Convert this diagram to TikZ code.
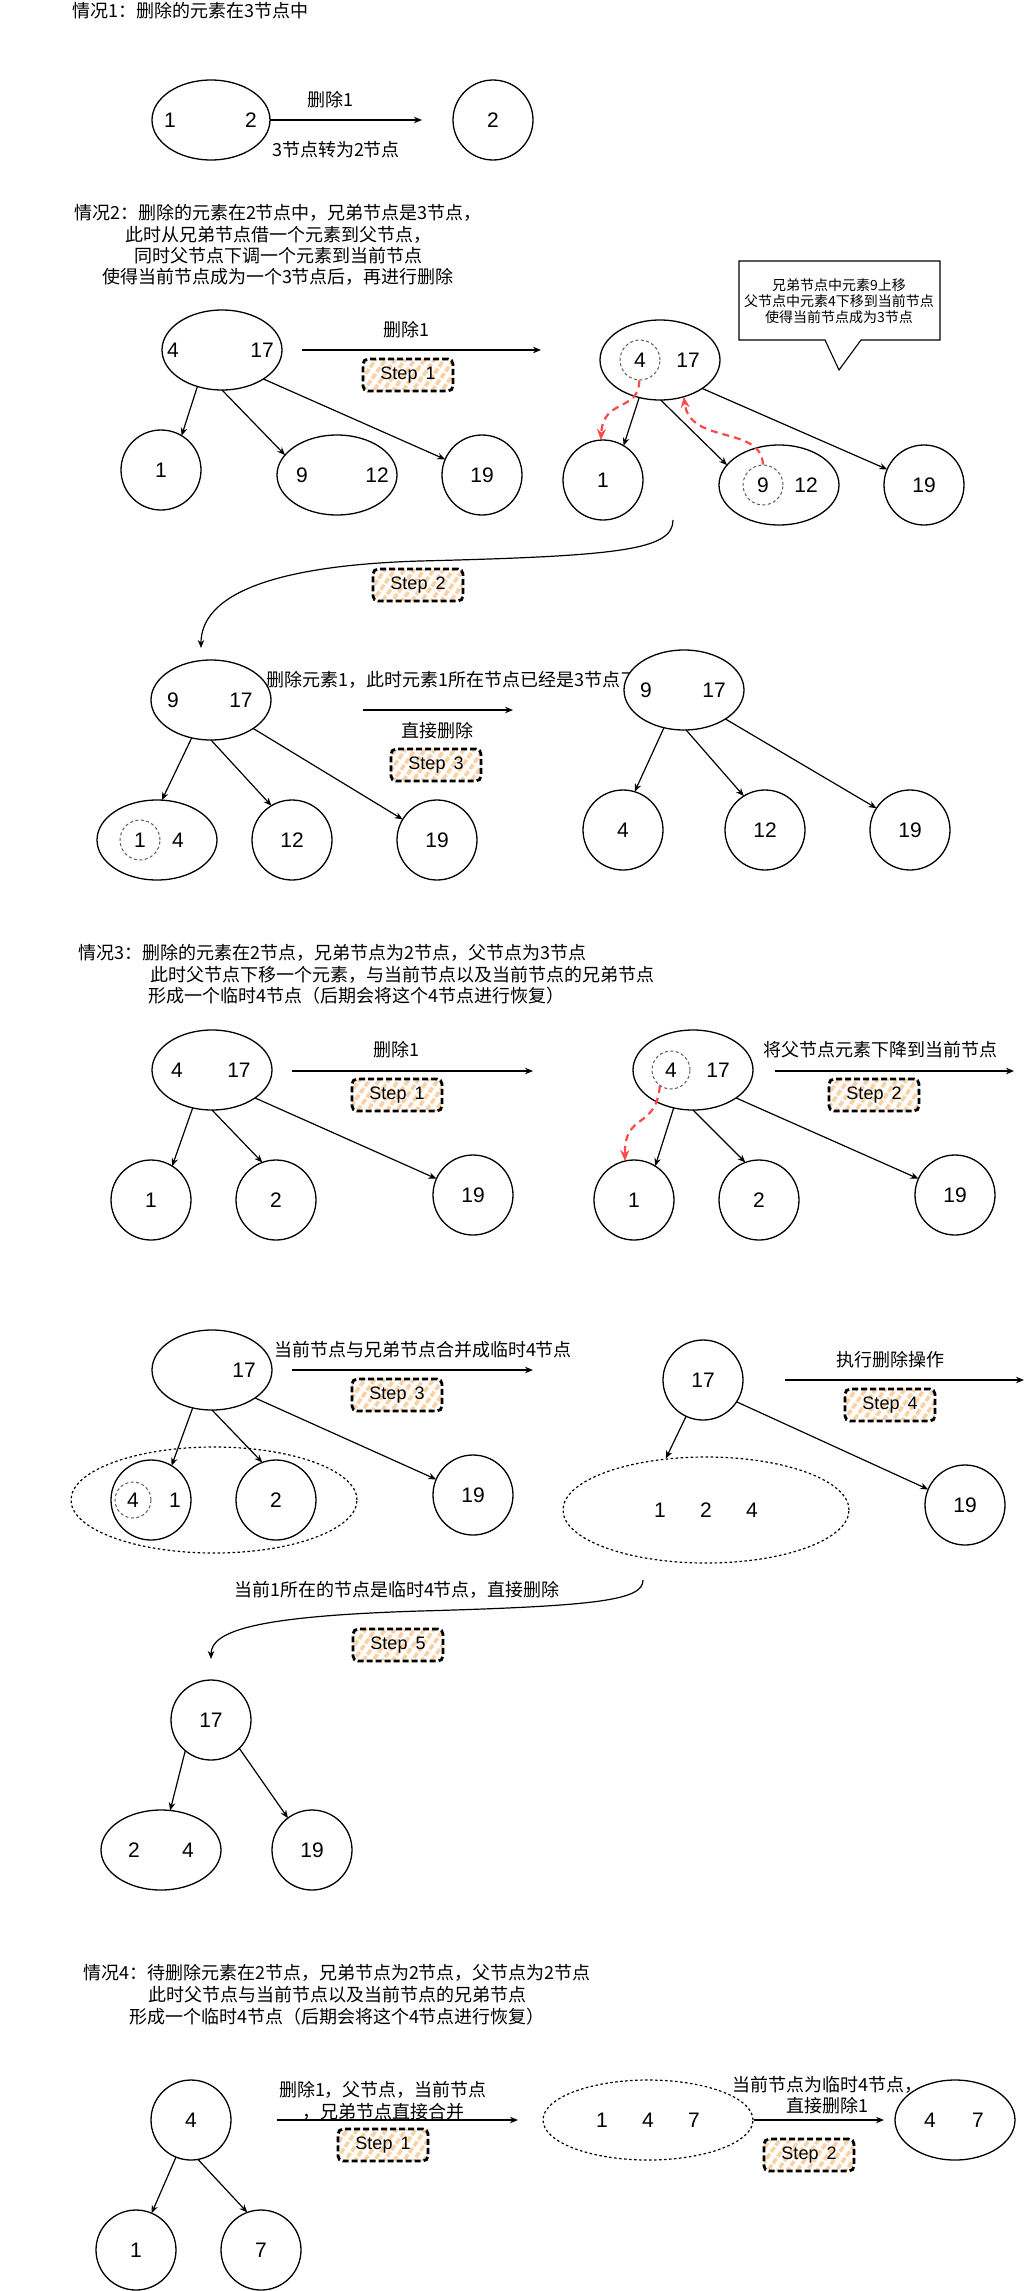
\documentclass[tikz,border=0pt]{standalone}
\usepackage{fontspec}
\setmainfont{Liberation Sans}
\newfontfamily\cjk{Noto Sans CJK SC}
\usetikzlibrary{shapes.geometric,arrows.meta,patterns.meta}
\definecolor{redarr}{RGB}{255,72,72}
\definecolor{hatchc}{RGB}{250,210,165}
\definecolor{dgray}{RGB}{90,90,90}
\tikzset{
  nd/.style={draw, ellipse, line width=1.3pt, inner sep=0pt, outer sep=0pt, fill=white,
    minimum width=#1, minimum height=80pt, font=\fontsize{21}{25}\selectfont},
  nd/.default=80pt,
  dc/.style={draw=dgray, circle, line width=1pt, dash pattern=on 3pt off 2.5pt, inner sep=0pt,
    minimum size=#1, font=\fontsize{21}{25}\selectfont},
  dc/.default=40pt,
  bigdash/.style={draw, ellipse, line width=1.2pt, dash pattern=on 2.5pt off 2.5pt, inner sep=0pt,
    fill=white, minimum width=#1, minimum height=106pt},
  num/.style={inner sep=0pt, font=\fontsize{21}{25}\selectfont},
  cn/.style={inner sep=0pt, font=\cjk\fontsize{18}{21.5}\selectfont},
  cnsm/.style={inner sep=0pt, font=\cjk\fontsize{14}{16}\selectfont},
  tedge/.style={-{Stealth[length=8pt,width=6.5pt]}, line width=1.2pt},
  redarrow/.style={-{Stealth[length=11pt,width=9pt]}, draw=redarr, line width=2.2pt,
    dash pattern=on 7pt off 5pt},
  stepbox/.style={draw, line width=2.8pt, dash pattern=on 6pt off 3pt, rounded corners=5pt,
    minimum width=90pt, minimum height=32pt, inner sep=0pt,
    pattern={Lines[angle=55,distance=8pt,line width=3.6pt]}, pattern color=hatchc,
    font=\fontsize{18}{21}\selectfont},
}
\newcommand{\stp}[1]{Step\hspace{8pt}#1}
\begin{document}
\begin{tikzpicture}[x=1pt,y=-1pt]
\fill[white] (0,0) rectangle (1029,2291);
\useasboundingbox (0,0) rectangle (1029,2291);

%% ---------------- Case 1
\node[cn, anchor=west] (t1) at (72,11) {情况1：删除的元素在3节点中};
\node[nd=118pt] (A) at (211,120) {};
\node[num] (A1) at (170,120) {1};
\node[num] (A2) at (251,120) {2};
\coordinate (a1e) at (422,120);
\draw[tedge] (A.east) -- (a1e);
\node[cn] (a1l) at (330,100) {删除1};
\node[cn] (a1m) at (336,150) {3节点转为2节点};
\node[nd] (B) at (493,120) {2};

%% ---------------- Case 2
\node[cn, align=center, font=\cjk\fontsize{18}{21.3}\selectfont] (t2) at (278,245)
  {情况2：删除的元素在2节点中，兄弟节点是3节点，\\此时从兄弟节点借一个元素到父节点，\\同时父节点下调一个元素到当前节点\\使得当前节点成为一个3节点后，再进行删除};

\node[nd=120pt] (C) at (222,350) {};
\node[num] (C1) at (173,350) {4};
\node[num] (C2) at (262,350) {17};
\coordinate (c0s) at (302,350);
\coordinate (c0e) at (541,350);
\draw[tedge] (c0s) -- (c0e);
\node[cn] (c0l) at (406,330) {删除1};
\node[stepbox] (st21) at (408,375) {\stp{1}};
\node[nd] (c1) at (161,470) {1};
\node[nd=120pt] (c2) at (337,475) {};
\node[num] (c21) at (302,475) {9};
\node[num] (c22) at (377,475) {12};
\node[nd] (c3) at (482,475) {19};
\draw[tedge] (C.236) -- (c1.59);
\draw[tedge] (C.270) -- (c2.159);
\draw[tedge] (C.325) -- (c3.157);

\node[nd=120pt] (D) at (660,360) {};
\node[dc] (Dd) at (640,360) {4};
\node[num] (D2) at (688,360) {17};
\node[nd] (d1) at (603,480) {1};
\node[nd=120pt] (d2) at (779,485) {};
\node[dc] (d2d) at (763,485) {9};
\node[num] (d22) at (806,485) {12};
\node[nd] (d3) at (924,485) {19};
\draw[tedge] (D.241) -- (d1.59);
\draw[tedge] (D.271) -- (d2.159);
\draw[tedge] (D.326) -- (d3.157);
\draw[redarrow] (Dd.268) .. controls (639,412) and (603,398) .. (d1.93);
\draw[redarrow] (d2d.90) .. controls (761,425) and (690,445) .. (D.303);

\draw[fill=white, line width=1.1pt] (739,261) -- (940,261) -- (940,340) -- (861,340)
  -- (839,370) -- (825,340) -- (739,340) -- cycle;
\node[cnsm, align=center] (callout) at (839,301)
  {兄弟节点中元素9上移\\父节点中元素4下移到当前节点\\使得当前节点成为3节点};

\coordinate (s2a) at (673,520);
\coordinate (s2b) at (201,648);
\draw[tedge] (s2a) .. controls (673,550) and (620,556) .. (420,561)
  .. controls (258,566) and (201,600) .. (s2b);
\node[stepbox] (st22) at (418,585) {\stp{2}};

\node[nd=120pt] (E) at (211,700) {};
\node[num] (E1) at (173,700) {9};
\node[num] (E2) at (241,700) {17};
\node[cn, anchor=west] (e0l) at (266,680) {删除元素1，此时元素1所在节点已经是3节点了};
\coordinate (e0s) at (363,710);
\coordinate (e0e) at (513,710);
\draw[tedge] (e0s) -- (e0e);
\node[cn] (e0m) at (437,731) {直接删除};
\node[stepbox] (st23) at (436,765) {\stp{3}};
\node[nd=120pt] (F) at (684,690) {};
\node[num] (F1) at (646,690) {9};
\node[num] (F2) at (714,690) {17};

\node[nd=120pt] (e1) at (157,840) {};
\node[dc] (e1d) at (140,840) {1};
\node[num] (e12) at (178,840) {4};
\node[nd] (e2) at (292,840) {12};
\node[nd] (e3) at (437,840) {19};
\draw[tedge] (E.243) -- (e1.83);
\draw[tedge] (E.270) -- (e2.121);
\draw[tedge] (E.326) -- (e3.149);

\node[nd] (f1) at (623,830) {4};
\node[nd] (f2) at (765,830) {12};
\node[nd] (f3) at (910,830) {19};
\draw[tedge] (F.242) -- (f1.73);
\draw[tedge] (F.273) -- (f2.122);
\draw[tedge] (F.325) -- (f3.147);

%% ---------------- Case 3
\node[cn, anchor=west] (t3a) at (78,953) {情况3：删除的元素在2节点，兄弟节点为2节点，父节点为3节点};
\node[cn, anchor=west] (t3b) at (150,975) {此时父节点下移一个元素，与当前节点以及当前节点的兄弟节点};
\node[cn, anchor=west] (t3c) at (148,996) {形成一个临时4节点（后期会将这个4节点进行恢复）};

\node[nd=120pt] (G) at (212,1070) {};
\node[num] (G1) at (177,1070) {4};
\node[num] (G2) at (239,1070) {17};
\coordinate (g0s) at (292,1071);
\coordinate (g0e) at (533,1071);
\draw[tedge] (g0s) -- (g0e);
\node[cn] (g0l) at (396,1050) {删除1};
\node[stepbox] (st31) at (397,1095) {\stp{1}};
\node[nd] (g1) at (151,1200) {1};
\node[nd] (g2) at (276,1200) {2};
\node[nd] (g3) at (473,1195) {19};
\draw[tedge] (G.243) -- (g1.58);
\draw[tedge] (G.270) -- (g2.110);
\draw[tedge] (G.327) -- (g3.156);

\node[nd=120pt] (H) at (693,1070) {};
\node[dc=38pt] (Hd) at (671,1070) {4};
\node[num] (H2) at (718,1070) {17};
\coordinate (h0s) at (775,1071);
\coordinate (h0e) at (1014,1071);
\draw[tedge] (h0s) -- (h0e);
\node[cn] (h0l) at (880,1050) {将父节点元素下降到当前节点};
\node[stepbox] (st32) at (874,1095) {\stp{2}};
\node[nd] (h1) at (634,1200) {1};
\node[nd] (h2) at (759,1200) {2};
\node[nd] (h3) at (955,1195) {19};
\draw[tedge] (H.243) -- (h1.58);
\draw[tedge] (H.270) -- (h2.110);
\draw[tedge] (H.327) -- (h3.156);
\draw[redarrow] (Hd.235) .. controls (656,1130) and (624,1112) .. (h1.103);

\node[nd=120pt] (I) at (212,1370) {};
\node[num] (I2) at (244,1370) {17};
\coordinate (i0s) at (292,1370);
\coordinate (i0e) at (533,1370);
\draw[tedge] (i0s) -- (i0e);
\node[cn] (i0l) at (423,1350) {当前节点与兄弟节点合并成临时4节点};
\node[stepbox] (st33) at (397,1395) {\stp{3}};
\node[bigdash=286pt] (Ib) at (214,1500) {};
\node[nd] (i1) at (151,1500) {};
\node[dc=36pt] (i1d) at (133,1500) {4};
\node[num] (i12) at (175,1500) {1};
\node[nd] (i2) at (276,1500) {2};
\node[nd] (i3) at (473,1495) {19};
\draw[tedge] (I.243) -- (i1.59);
\draw[tedge] (I.270) -- (i2.110);
\draw[tedge] (I.327) -- (i3.157);

\node[nd] (J) at (703,1380) {17};
\coordinate (j0s) at (785,1380);
\coordinate (j0e) at (1024,1380);
\draw[tedge] (j0s) -- (j0e);
\node[cn] (j0l) at (890,1360) {执行删除操作};
\node[stepbox] (st34) at (890,1405) {\stp{4}};
\node[bigdash=286pt] (Jb) at (706,1510) {};
\node[num] (Jb1) at (660,1510) {1};
\node[num] (Jb2) at (706,1510) {2};
\node[num] (Jb3) at (752,1510) {4};
\node[nd] (j3) at (965,1505) {19};
\draw[tedge] (J.245) -- (Jb.128);
\draw[tedge] (J.327) -- (j3.157);

\coordinate (s5a) at (643,1580);
\coordinate (s5b) at (211,1659);
\draw[tedge] (s5a) .. controls (643,1600) and (600,1606) .. (420,1611)
  .. controls (260,1616) and (211,1630) .. (s5b);
\node[cn] (s5l) at (397,1590) {当前1所在的节点是临时4节点，直接删除};
\node[stepbox] (st35) at (398,1645) {\stp{5}};

\node[nd] (K) at (211,1720) {17};
\node[nd=120pt] (k1) at (161,1850) {};
\node[num] (k11) at (134,1850) {2};
\node[num] (k12) at (188,1850) {4};
\node[nd] (k2) at (312,1850) {19};
\draw[tedge] (K.230) -- (k1.77);
\draw[tedge] (K.315) -- (k2.127);

%% ---------------- Case 4
\node[cn, align=center, font=\cjk\fontsize{18}{22}\selectfont] (t4) at (337,1995)
  {情况4：待删除元素在2节点，兄弟节点为2节点，父节点为2节点\\此时父节点与当前节点以及当前节点的兄弟节点\\形成一个临时4节点（后期会将这个4节点进行恢复）};

\node[nd] (L) at (191,2120) {4};
\node[nd] (l1) at (136,2250) {1};
\node[nd] (l2) at (261,2250) {7};
\draw[tedge] (L.248) -- (l1.67);
\draw[tedge] (L.280) -- (l2.110);
\coordinate (l0s) at (277,2120);
\coordinate (l0e) at (518,2120);
\draw[tedge] (l0s) -- (l0e);
\node[cn, align=center, font=\cjk\fontsize{18}{22}\selectfont] (l0l) at (383,2101)
  {删除1，父节点，当前节点\\，兄弟节点直接合并};
\node[stepbox] (st41) at (383,2145) {\stp{1}};

\node[draw, ellipse, line width=1.2pt, dash pattern=on 2.5pt off 2.5pt, inner sep=0pt,
  minimum width=210pt, minimum height=80pt] (N) at (648,2120) {};
\node[num] (N1) at (602,2120) {1};
\node[num] (N2) at (648,2120) {4};
\node[num] (N3) at (694,2120) {7};
\coordinate (n0e) at (884,2120);
\draw[tedge] (N.east) -- (n0e);
\node[cn, align=center, font=\cjk\fontsize{18}{21}\selectfont] (n0l) at (827,2095)
  {当前节点为临时4节点，\\直接删除1};
\node[stepbox] (st42) at (809,2155) {\stp{2}};
\node[nd=120pt] (M) at (955,2120) {};
\node[num] (M1) at (930,2120) {4};
\node[num] (M2) at (978,2120) {7};
\end{tikzpicture}
\end{document}
